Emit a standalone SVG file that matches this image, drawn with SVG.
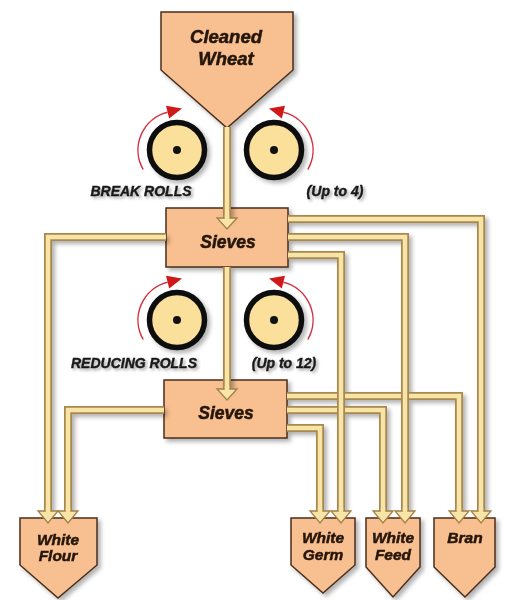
<svg xmlns="http://www.w3.org/2000/svg" width="506" height="600" viewBox="0 0 506 600">
<defs>
<filter id="sh" x="-20%" y="-20%" width="150%" height="150%">
<feDropShadow dx="3" dy="3" stdDeviation="2" flood-color="#000" flood-opacity="0.3"/>
</filter>
<filter id="tsh" x="-10%" y="-30%" width="130%" height="170%">
<feDropShadow dx="2" dy="2" stdDeviation="1.5" flood-color="#000" flood-opacity="0.35"/>
</filter>
<style>
.box{fill:#f8bf90;stroke:#4a2e1a;stroke-width:1.5;stroke-linejoin:miter}
.po{fill:none;stroke:#a8884e;stroke-width:8;stroke-linejoin:miter}
.pi{fill:none;stroke:#f8e4a6;stroke-width:4.5;stroke-linejoin:miter}
.ah{fill:#f8e4a6;stroke:#a08048;stroke-width:1.3;stroke-linejoin:miter}
.roll{fill:#fbe09c;stroke:#111;stroke-width:5.5}
.dot{fill:#111}
.rarc{fill:none;stroke:#d43040;stroke-width:1.5}
.rah{fill:#d01818}
.t{font-family:"Liberation Sans",Arial,sans-serif;font-weight:bold;font-style:italic;fill:#241408;stroke:#241408;stroke-width:0.5;text-anchor:middle}
.lab{font-family:"Liberation Sans",Arial,sans-serif;font-weight:bold;font-style:italic;fill:#1a1a1a;stroke:#1a1a1a;stroke-width:0.4;text-anchor:middle;font-size:14px}
</style>
</defs>
<rect width="506" height="600" fill="#fff"/>

<g id="cleaned-wheat" filter="url(#sh)">
<polygon class="box" points="161,12 293,12 293,70 227,128 161,70"/>
<text class="t" x="226" y="43" font-size="18.5">Cleaned</text>
<text class="t" x="226" y="65" font-size="18.5">Wheat</text>
</g>

<g id="break-rolls">
<circle class="roll" cx="177" cy="150" r="27.5" filter="url(#sh)"/>
<circle class="dot" cx="177" cy="150" r="4"/>
<circle class="roll" cx="274" cy="150" r="27.5" filter="url(#sh)"/>
<circle class="dot" cx="274" cy="150" r="4"/>
<path class="rarc" d="M143.2,169.5 A39,39 0 0,1 167.6,112.2"/>
<polygon class="rah" points="182,108.6 169.2,118.5 166,105.8"/>
<path class="rarc" d="M307.8,169.5 A39,39 0 0,0 283.4,112.2"/>
<polygon class="rah" points="269,108.6 281.8,118.5 285,105.8"/>
<g filter="url(#tsh)">
<text class="lab" x="141" y="196">BREAK ROLLS</text>
<text class="lab" x="335" y="196">(Up to 4)</text>
</g>
</g>

<g id="sieves-1" filter="url(#sh)">
<rect class="box" x="166" y="208" width="122" height="59"/>
<text class="t" x="228" y="248" font-size="17.5">Sieves</text>
</g>

<g id="reducing-rolls">
<circle class="roll" cx="177" cy="320" r="27.5" filter="url(#sh)"/>
<circle class="dot" cx="177" cy="320" r="4"/>
<circle class="roll" cx="274" cy="320" r="27.5" filter="url(#sh)"/>
<circle class="dot" cx="274" cy="320" r="4"/>
<path class="rarc" d="M143.2,339.5 A39,39 0 0,1 167.6,282.2"/>
<polygon class="rah" points="182,278.6 169.2,288.5 166,275.8"/>
<path class="rarc" d="M307.8,339.5 A39,39 0 0,0 283.4,282.2"/>
<polygon class="rah" points="269,278.6 281.8,288.5 285,275.8"/>
<g filter="url(#tsh)">
<text class="lab" x="134" y="368">REDUCING ROLLS</text>
<text class="lab" x="284" y="368">(Up to 12)</text>
</g>
</g>

<g id="sieves-2" filter="url(#sh)">
<rect class="box" x="164" y="380" width="123" height="58"/>
<text class="t" x="226" y="419" font-size="17.5">Sieves</text>
</g>

<g id="white-flour" filter="url(#sh)">
<polygon class="box" points="20,518 97,518 97,565 58,598 20,565"/>
<text class="t" x="58" y="545" font-size="15.5">White</text>
<text class="t" x="58" y="561" font-size="15.5">Flour</text>
</g>
<g id="white-germ" filter="url(#sh)">
<polygon class="box" points="291,518 355,518 355,565 323,593 291,565"/>
<text class="t" x="323" y="543" font-size="15.5">White</text>
<text class="t" x="323" y="560" font-size="15.5">Germ</text>
</g>
<g id="white-feed" filter="url(#sh)">
<polygon class="box" points="366,518 420,518 420,567 393,597 366,567"/>
<text class="t" x="393" y="543" font-size="15.5">White</text>
<text class="t" x="393" y="560" font-size="15.5">Feed</text>
</g>
<g id="bran" filter="url(#sh)">
<polygon class="box" points="434,518 495,518 495,567 465,597 434,567"/>
<text class="t" x="465" y="543" font-size="15.5">Bran</text>
</g>

<g id="connectors">
<g filter="url(#sh)">
<path class="po" d="M287,396 H459 V511"/><path class="pi" d="M287,396 H459 V511"/>
<path class="po" d="M287,410 H383 V511"/><path class="pi" d="M287,410 H383 V511"/>
<path class="po" d="M287,428 H320 V511"/><path class="pi" d="M287,428 H320 V511"/>
<path class="po" d="M164,410 H68 V511"/><path class="pi" d="M164,410 H68 V511"/>
<path class="po" d="M166,237 H48 V511"/><path class="pi" d="M166,237 H48 V511"/>
<path class="po" d="M288,219 H481 V511"/><path class="pi" d="M288,219 H481 V511"/>
<path class="po" d="M288,237 H405 V511"/><path class="pi" d="M288,237 H405 V511"/>
<path class="po" d="M288,255 H341 V511"/><path class="pi" d="M288,255 H341 V511"/>
<path class="po" d="M227,127 V218"/><path class="pi" d="M227,127 V218"/>
<path class="po" d="M227,267 V389"/><path class="pi" d="M227,267 V389"/>
</g>
<polygon class="ah" points="217,218 237,218 227,229"/>
<polygon class="ah" points="217,389 237,389 227,400"/>
<polygon class="ah" points="38,511 58,511 48,523"/>
<polygon class="ah" points="58,511 78,511 68,523"/>
<polygon class="ah" points="310,511 330,511 320,523"/>
<polygon class="ah" points="331,511 351,511 341,523"/>
<polygon class="ah" points="373,511 393,511 383,523"/>
<polygon class="ah" points="395,511 415,511 405,523"/>
<polygon class="ah" points="449,511 469,511 459,523"/>
<polygon class="ah" points="471,511 491,511 481,523"/>
<g class="pi">
<path d="M227,215 V220"/><path d="M227,386 V391"/>
<path d="M48,508 V513"/><path d="M68,508 V513"/>
<path d="M320,508 V513"/><path d="M341,508 V513"/>
<path d="M383,508 V513"/><path d="M405,508 V513"/>
<path d="M459,508 V513"/><path d="M481,508 V513"/>
</g>
</g>
</svg>
